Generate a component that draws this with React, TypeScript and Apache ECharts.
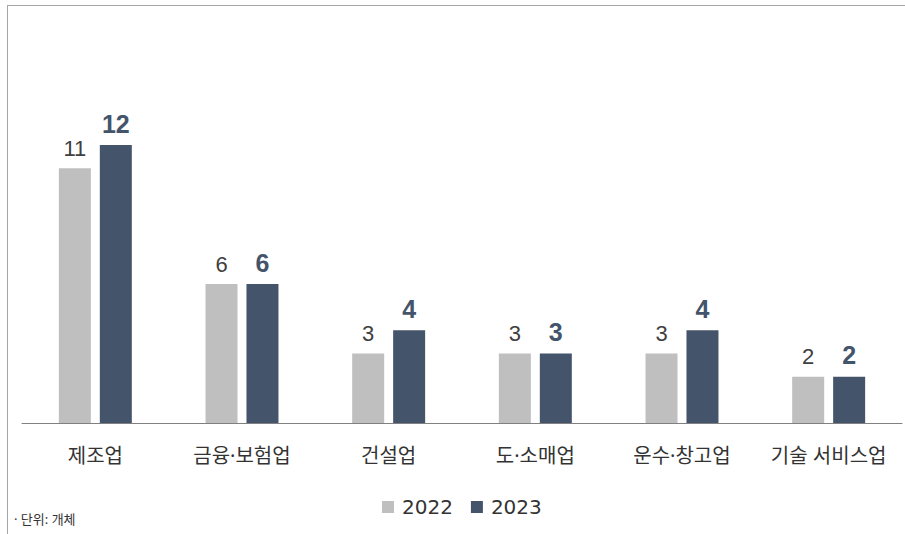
import React, { useEffect, useRef } from "react";
import * as echarts from "echarts";

const categories = ["제조업", "금융·보험업", "건설업", "도·소매업", "운수·창고업", "기술 서비스업"];
const values2022 = [11, 6, 3, 3, 3, 2];
const values2023 = [12, 6, 4, 3, 4, 2];
const seriesNames = ["2022", "2023"];
const unitNote = "· 단위: 개체";

const KR = "'Noto Sans', 'Noto Sans CJK KR', sans-serif";
const NUM = "'Liberation Sans', Arial, 'Noto Sans CJK KR', sans-serif";
const LEG = "'DejaVu Sans', 'Liberation Sans', sans-serif";

export default function App() {
  const ref = useRef<HTMLDivElement>(null);
  useEffect(() => {
    if (!ref.current) return;
    const chart = echarts.init(ref.current, undefined, { renderer: "svg" });
    chart.setOption({
      animation: false,
      backgroundColor: "#ffffff",
      grid: { left: 22, right: 3, top: 75.5, bottom: 111, containLabel: false },
      legend: {
        data: seriesNames,
        left: 377,
        top: 492,
        itemWidth: 12,
        itemHeight: 12,
        itemGap: 18,
        icon: "rect",
        textStyle: { fontSize: 20, color: "#333333", fontFamily: LEG, padding: [0, 0, 0, 3] },
      },
      xAxis: {
        type: "category",
        data: categories,
        axisLine: { show: true, lineStyle: { color: "#808080", width: 1 } },
        axisTick: { show: false },
        axisLabel: { interval: 0, hideOverlap: false, fontSize: 20, color: "#333333", fontFamily: KR, margin: 22 },
      },
      yAxis: {
        type: "value",
        min: 0,
        max: 15,
        show: false,
        splitLine: { show: false },
      },
      series: [
        {
          name: seriesNames[0],
          type: "bar",
          data: values2022,
          barWidth: 32,
          barGap: "28%",
          itemStyle: { color: "#bfbfbf" },
          label: {
            show: true,
            position: "top",
            distance: 9,
            fontSize: 22,
            color: "#404040",
            fontFamily: NUM,
          },
        },
        {
          name: seriesNames[1],
          type: "bar",
          data: values2023,
          barWidth: 32,
          barGap: "28%",
          itemStyle: { color: "#44546a" },
          label: {
            show: true,
            position: "top",
            distance: 9,
            fontSize: 25,
            fontWeight: "bold",
            color: "#44546a",
            fontFamily: NUM,
          },
        },
      ],
      graphic: [
        { type: "line", shape: { x1: 7, y1: 5.5, x2: 905, y2: 5.5 }, style: { stroke: "#a6a6a6", lineWidth: 1 } },
        { type: "line", shape: { x1: 7.5, y1: 5, x2: 7.5, y2: 534 }, style: { stroke: "#a6a6a6", lineWidth: 1 } },
        {
          type: "text",
          left: 14,
          top: 512,
          style: { text: unitNote, fontSize: 13, fill: "#333333", fontFamily: KR },
        },
      ],
    });
    return () => chart.dispose();
  }, []);
  return (
    <div
      ref={ref}
      style={{ position: "absolute", left: 0, top: 0, width: 905, height: 534 }}
    />
  );
}
